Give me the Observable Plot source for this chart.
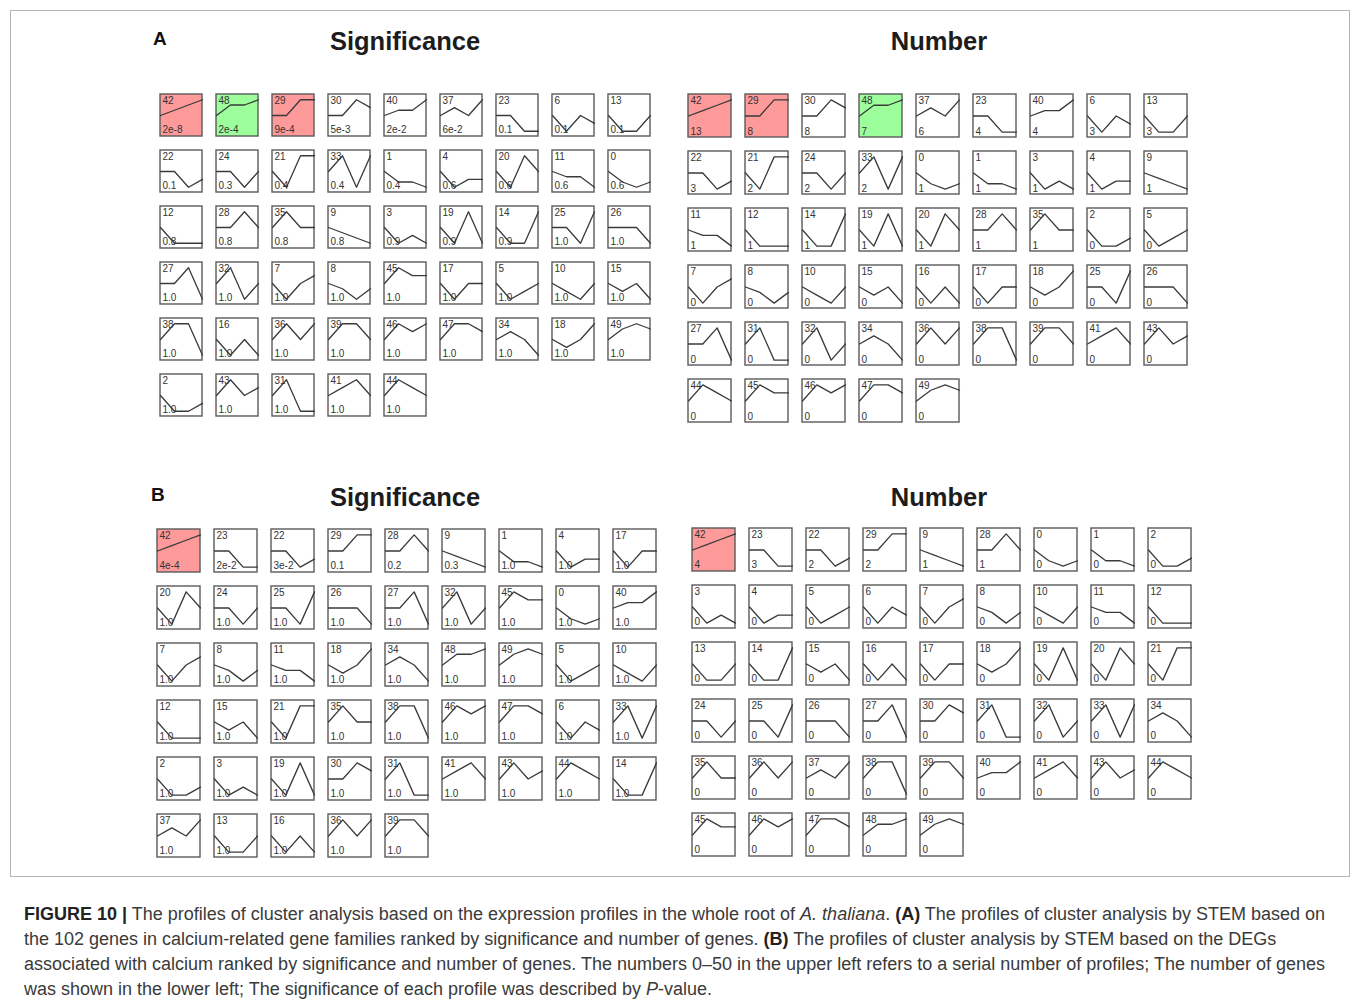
<!DOCTYPE html>
<html>
<head>
<meta charset="utf-8">
<script src="https://cdn.jsdelivr.net/npm/d3@7"></script>
<script src="https://cdn.jsdelivr.net/npm/@observablehq/plot@0.6"></script>
<style>
  html, body { margin: 0; padding: 0; background: #fff; }
  #root { position: relative; width: 1360px; height: 1006px; overflow: hidden; font-family: "Liberation Sans", Arial, sans-serif; }
  .outer { position: absolute; left: 10px; top: 10px; width: 1340px; height: 867px; border: 1px solid #b5b5b5; box-sizing: border-box; }
  .title { position: absolute; font-size: 25.5px; font-weight: bold; color: #1c1c1c; line-height: 1; white-space: nowrap; transform: translateX(-50%); }
  .letter { position: absolute; font-size: 19px; font-weight: bold; color: #111; line-height: 1; }
  .panel { position: absolute; }
  .caption { position: absolute; left: 24px; top: 901.5px; font-size: 18px; line-height: 25px; color: #3a3a3a; white-space: nowrap; }
  .caption b { color: #222; }
</style>
</head>
<body>
<div id="root">
  <div class="outer"></div>
  <div class="letter" style="left:153px; top:29px;">A</div>
  <div class="letter" style="left:151px; top:485px;">B</div>
  <div class="title" style="left:405px; top:29px;">Significance</div>
  <div class="title" style="left:939px; top:29px;">Number</div>
  <div class="title" style="left:405px; top:485px;">Significance</div>
  <div class="title" style="left:939px; top:485px;">Number</div>
  <div id="aSig" class="panel"></div>
  <div id="aNum" class="panel"></div>
  <div id="bSig" class="panel"></div>
  <div id="bNum" class="panel"></div>
  <div class="caption">
    <b>FIGURE 10 |</b> The profiles of cluster analysis based on the expression profiles in the whole root of <i>A. thaliana</i>. <b>(A)</b> The profiles of cluster analysis by STEM based on<br>
    the 102 genes in calcium-related gene families ranked by significance and number of genes. <b>(B)</b> The profiles of cluster analysis by STEM based on the DEGs<br>
    associated with calcium ranked by significance and number of genes. The numbers 0–50 in the upper left refers to a serial number of profiles; The number of genes<br>
    was shown in the lower left; The significance of each profile was described by <i>P</i>-value.
  </div>
</div>
<script>
// STEM model profiles 0..49: expression at 4 time points (start 0)
const profileValues = [
  [0,-2,-3,-2], [0,-2,-2,-3], [0,-2,-2,-1], [0,-2,-1,-2], [0,-2,-1,-1],
  [0,-2,-1,0],  [0,-2,0,-1],  [0,-2,0,1],   [0,-1,-3,-1], [0,-1,-2,-3],
  [0,-1,-2,0],  [0,-1,-1,-3], [0,-1,-1,-1], [0,-1,-1,0],  [0,-1,-1,1],
  [0,-1,0,-2],  [0,-1,0,-1],  [0,-1,0,0],   [0,-1,0,2],   [0,-1,1,-1],
  [0,-1,1,0],   [0,-1,1,1],   [0,0,-2,-1],  [0,0,-1,-1],  [0,0,-1,0],
  [0,0,-1,1],   [0,0,0,-1],   [0,0,1,-1],   [0,0,1,0],    [0,0,1,1],
  [0,0,2,1],    [0,1,-1,-1],  [0,1,-1,0],   [0,1,-1,1],   [0,1,0,-2],
  [0,1,0,0],    [0,1,0,1],    [0,1,0,2],    [0,1,1,-1],   [0,1,1,0],
  [0,1,1,3],    [0,1,2,0],    [0,1,2,3],    [0,2,0,1],    [0,2,1,0],
  [0,2,1,1],    [0,2,1,2],    [0,2,2,1],    [0,2,2,3],    [0,2,3,2]
];

// (A) Significance
const aSigOrder = [42,48,29,30,40,37,23,6,13, 22,24,21,33,1,4,20,11,0, 12,28,35,9,3,19,14,25,26,
  27,32,7,8,45,17,5,10,15, 38,16,36,39,46,47,34,18,49, 2,43,31,41,44];
const aSigLabels = ["2e-8","2e-4","9e-4","5e-3","2e-2","6e-2","0.1","0.1","0.1",
  "0.1","0.3","0.4","0.4","0.4","0.6","0.6","0.6","0.6",
  "0.8","0.8","0.8","0.8","0.9","0.9","0.9","1.0","1.0",
  "1.0","1.0","1.0","1.0","1.0","1.0","1.0","1.0","1.0",
  "1.0","1.0","1.0","1.0","1.0","1.0","1.0","1.0","1.0",
  "1.0","1.0","1.0","1.0","1.0"];
const aSigHighlight = {42: "up", 48: "down", 29: "up"};

// (A) Number
const aNumOrder = [42,29,30,48,37,23,40,6,13, 22,21,24,33,0,1,3,4,9, 11,12,14,19,20,28,35,2,5,
  7,8,10,15,16,17,18,25,26, 27,31,32,34,36,38,39,41,43, 44,45,46,47,49];
const aNumCounts = [13,8,8,7,6,4,4,3,3, 3,2,2,2,1,1,1,1,1, 1,1,1,1,1,1,1,0,0,
  0,0,0,0,0,0,0,0,0, 0,0,0,0,0,0,0,0,0, 0,0,0,0,0];
const aNumHighlight = {42: "up", 29: "up", 48: "down"};

// (B) Significance
const bSigOrder = [42,23,22,29,28,9,1,4,17, 20,24,25,26,27,32,45,0,40, 7,8,11,18,34,48,49,5,10,
  12,15,21,35,38,46,47,6,33, 2,3,19,30,31,41,43,44,14, 37,13,16,36,39];
const bSigLabels = ["4e-4","2e-2","3e-2","0.1","0.2","0.3","1.0","1.0","1.0",
  "1.0","1.0","1.0","1.0","1.0","1.0","1.0","1.0","1.0",
  "1.0","1.0","1.0","1.0","1.0","1.0","1.0","1.0","1.0",
  "1.0","1.0","1.0","1.0","1.0","1.0","1.0","1.0","1.0",
  "1.0","1.0","1.0","1.0","1.0","1.0","1.0","1.0","1.0",
  "1.0","1.0","1.0","1.0","1.0"];
const bSigHighlight = {42: "up"};

// (B) Number
const bNumOrder = [42,23,22,29,9,28,0,1,2, 3,4,5,6,7,8,10,11,12, 13,14,15,16,17,18,19,20,21,
  24,25,26,27,30,31,32,33,34, 35,36,37,38,39,40,41,43,44, 45,46,47,48,49];
const bNumCounts = [4,3,2,2,1,1,0,0,0, 0,0,0,0,0,0,0,0,0, 0,0,0,0,0,0,0,0,0,
  0,0,0,0,0,0,0,0,0, 0,0,0,0,0,0,0,0,0, 0,0,0,0,0];
const bNumHighlight = {42: "up"};

const NCOL = 9;
const PAD = 2;

function panel(order, labels, highlight, cfg) {
  const cells = order.map((id, i) => ({
    id, col: i % NCOL, row: Math.floor(i / NCOL),
    label: String(labels[i]), status: highlight[id] || "none"
  }));
  const nrow = d3.max(cells, d => d.row) + 1;
  const pts = cells.flatMap(c => {
    const v = profileValues[c.id];
    const m = d3.max(v, Math.abs);
    return v.map((y, t) => ({col: c.col, row: c.row, t, y: y / m}));
  });
  const px = 1 - cfg.box / cfg.stepX;
  const py = 1 - cfg.box / cfg.stepY;
  const w = cfg.stepX * (NCOL - px);
  const h = cfg.stepY * (nrow - py);
  const font = {fontSize: 10, fontFamily: "Liberation Sans, Arial, sans-serif", fill: "#333"};
  const chart = Plot.plot({
    width: w + 2 * PAD, height: h + 2 * PAD,
    marginLeft: PAD, marginRight: PAD, marginTop: PAD, marginBottom: PAD,
    style: {background: "transparent", overflow: "visible"},
    fx: {domain: d3.range(NCOL), paddingInner: px, paddingOuter: 0, axis: null},
    fy: {domain: d3.range(nrow), paddingInner: py, paddingOuter: 0, axis: null},
    x: {type: "linear", domain: [0, 3], axis: null},
    y: {type: "linear", domain: [-4 / 3, 4 / 3], axis: null},
    color: {type: "ordinal", domain: ["up", "down", "none"], range: ["#ff9a9a", "#9cff9c", "#ffffff"]},
    marks: [
      Plot.rect(cells, {fx: "col", fy: "row", fill: "status", stroke: "#5a5a5a", strokeWidth: 1.4}),
      Plot.line(pts, {fx: "col", fy: "row", x: "t", y: "y", stroke: "#3a3a3a", strokeWidth: 1.3}),
      Plot.text(cells, {fx: "col", fy: "row", text: d => String(d.id), frameAnchor: "top-left", dx: 2, dy: 2, ...font}),
      Plot.text(cells, {fx: "col", fy: "row", text: "label", frameAnchor: "bottom-left", dx: 2, dy: -3, ...font})
    ]
  });
  const host = document.getElementById(cfg.id);
  host.style.left = (cfg.left - PAD) + "px";
  host.style.top = (cfg.top - PAD) + "px";
  host.appendChild(chart);
}

panel(aSigOrder, aSigLabels, aSigHighlight, {id: "aSig", left: 160, top: 93, stepX: 56.1, stepY: 56.2, box: 42});
panel(aNumOrder, aNumCounts, aNumHighlight, {id: "aNum", left: 686, top: 93, stepX: 57.5, stepY: 57.5, box: 43});
panel(bSigOrder, bSigLabels, bSigHighlight, {id: "bSig", left: 154, top: 527, stepX: 57.75, stepY: 57.7, box: 43.3});
panel(bNumOrder, bNumCounts, bNumHighlight, {id: "bNum", left: 689.7, top: 527, stepX: 57.5, stepY: 57.5, box: 43.3});
</script>
</body>
</html>
